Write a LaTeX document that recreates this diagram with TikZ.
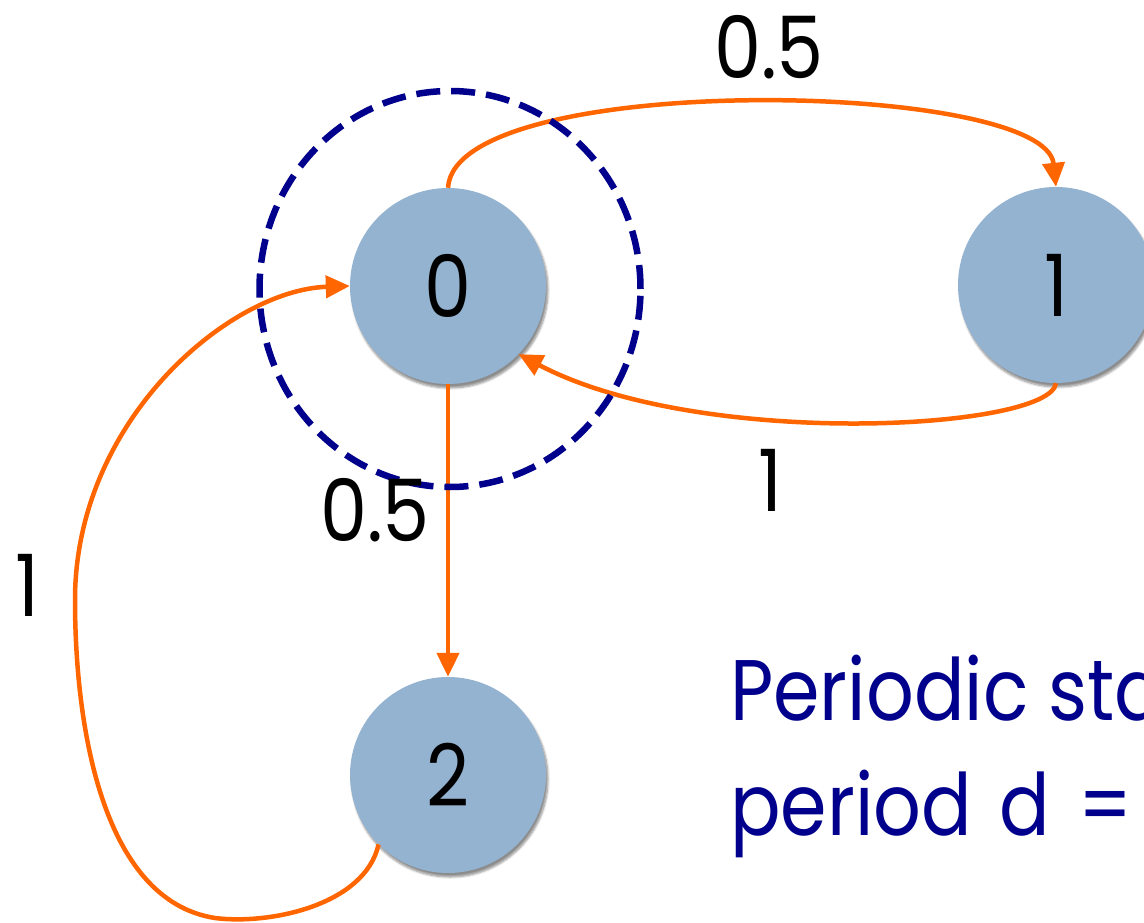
\documentclass[tikz,border=0pt]{standalone}
\usepackage{fontspec}
\setmainfont[FakeStretch=0.87]{Poppins}
\usetikzlibrary{arrows.meta,shadows.blur,shapes.geometric}
\definecolor{nodefill}{RGB}{147,179,209}
\definecolor{edgeorange}{RGB}{255,102,0}
\definecolor{navy}{RGB}{0,0,140}
\tikzset{
  state/.style={circle, fill=nodefill, minimum size=196pt, inner sep=0pt,
    font=\fontsize{86}{96}\selectfont,
    blur shadow={shadow xshift=2pt, shadow yshift=-4pt, shadow blur steps=6, shadow opacity=45}},
  edge/.style={draw=edgeorange, line width=4.5pt, -{Triangle[length=24pt,width=22pt]}},
  lbl/.style={font=\fontsize{86}{96}\selectfont, inner sep=0pt},
  ring/.style={draw=navy, line width=6.5pt, dash pattern=on 24pt off 11pt},
  note/.style={font=\fontsize{86}{96}\selectfont, text=navy, inner sep=0pt, anchor=base west}
}
\begin{document}
\begin{tikzpicture}[x=1pt,y=-1pt]
\useasboundingbox (0,0) rectangle (1144,923);
\clip (0,0) rectangle (1144,923);
\node[state] (n0) at (448,286) {0};
\node[state] (n1) at (1056,285) {1};
\node[state] (n2) at (448,775) {2};
\draw[edge] (n0.north) .. controls (455,70) and (1045,80) .. (n1.north);
\draw[edge] (n1.south) .. controls (1050,430) and (700,450) .. (n0.-44);
\draw[edge] (n0.south) -- (n2.north);
\draw[edge] (n2.-135) .. controls (365,905) and (270,925) .. (215,918)
  .. controls (100,900) and (75,720) .. (75,600)
  .. controls (75,420) and (230,290) .. (n0.west);
\node[ring, ellipse, minimum width=381pt, minimum height=396pt, inner sep=0pt] (ring) at (450,289) {};
\node[lbl] (l01) at (769,47) {0.5};
\node[lbl] (l10) at (770,480) {1};
\node[lbl] (l02) at (375,510) {0.5};
\node[lbl] (l20) at (27,585) {1};
\node[note] (t1) at (730,720) {Periodic sta};
\node[note] (t2) at (730,835) {period\hspace{8pt} d\hspace{8pt} =};
\end{tikzpicture}
\end{document}
